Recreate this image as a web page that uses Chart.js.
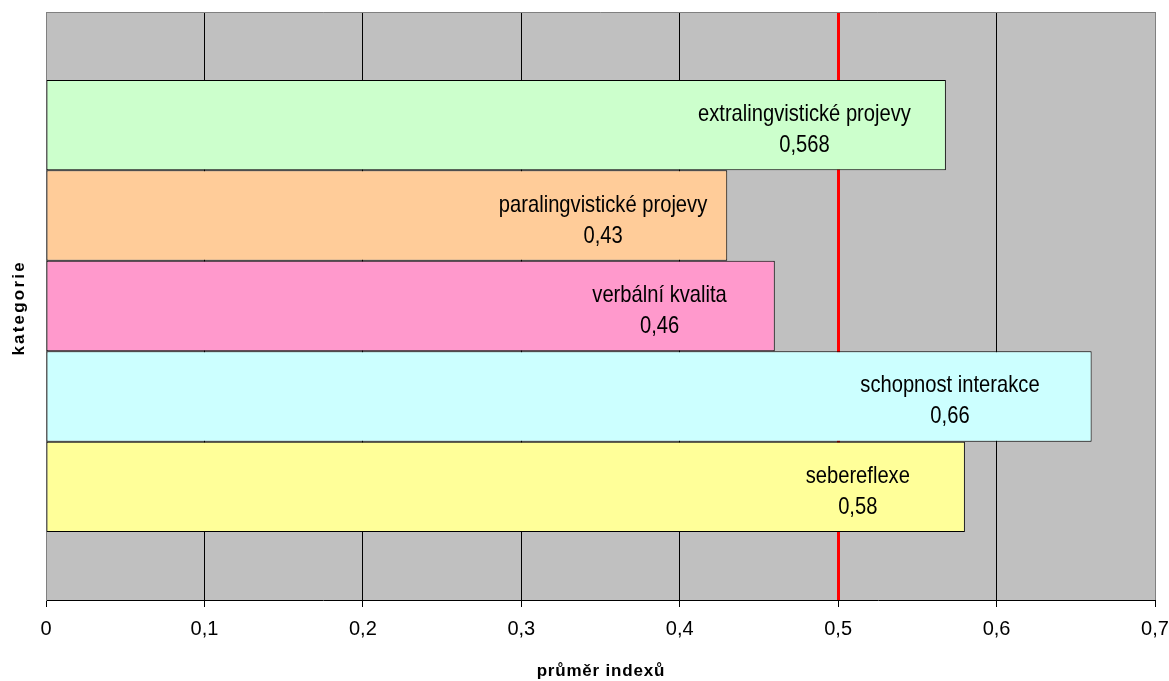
<!DOCTYPE html>
<html>
<head>
<meta charset="utf-8">
<script src="https://cdn.jsdelivr.net/npm/chart.js@4/dist/chart.umd.min.js"></script>
<style>
  html, body { margin: 0; padding: 0; background: #ffffff; }
  #wrap { width: 1169px; height: 681px; position: relative; }
</style>
</head>
<body>
<div id="wrap"><canvas id="c"></canvas></div>
<script>
// Series: one bar per category of the index
const seriesNames  = ['extralingvistické projevy', 'paralingvistické projevy', 'verbální kvalita', 'schopnost interakce', 'sebereflexe'];
const seriesValues = [0.568, 0.43, 0.46, 0.66, 0.58];
const seriesColors = ['#CCFFCC', '#FFCC99', '#FF99CC', '#CCFFFF', '#FFFF99'];

// Value axis ticks and the reference threshold
const xTickValues = [0, 0.1, 0.2, 0.3, 0.4, 0.5, 0.6, 0.7];
const referenceValue = 0.5;

// Axis titles
const xTitle = 'průměr indexů';
const yTitle = 'kategorie';

// Label styling: distance of each label block from its bar end (px)
const labelInsets = [35, 20, 48, 52, 55];
const textSqueeze = 0.84;
const FONT = '"Liberation Sans", Arial, Helvetica, sans-serif';

const fmt = v => String(Math.round(v * 1000) / 1000).replace('.', ',');

// draws text with extra spacing between glyphs, one glyph at a time
function spacedText(ctx, text, cx, cy, spacing) {
  const chars = Array.from(text);
  const widths = chars.map(ch => ctx.measureText(ch).width);
  const total = widths.reduce((s, w) => s + w, 0) + spacing * (chars.length - 1);
  let x = cx - total / 2;
  ctx.textAlign = 'left';
  chars.forEach((ch, i) => { ctx.fillText(ch, x, cy); x += widths[i] + spacing; });
}

const plotDecor = {
  id: 'plotDecor',
  beforeDraw(chart) {
    const { ctx, chartArea: a } = chart;
    ctx.save();
    ctx.fillStyle = '#C0C0C0';
    ctx.fillRect(a.left, a.top, a.right - a.left, a.bottom - a.top);
    ctx.restore();
  },
  afterDatasetsDraw(chart) {
    const { ctx, chartArea: a } = chart;
    ctx.save();
    // upper frame edge of the plot area
    ctx.strokeStyle = '#808080';
    ctx.lineWidth = 1;
    ctx.beginPath();
    ctx.moveTo(a.left, Math.round(a.top) + 0.5);
    ctx.lineTo(a.right, Math.round(a.top) + 0.5);
    ctx.stroke();

    // two-line labels inside each bar: name and value
    ctx.font = '24px ' + FONT;
    ctx.fillStyle = '#000000';
    ctx.textAlign = 'center';
    ctx.textBaseline = 'alphabetic';
    chart.data.datasets.forEach((ds, i) => {
      const bar = chart.getDatasetMeta(i).data[0];
      if (!bar) return;
      const lines = [seriesNames[i], fmt(seriesValues[i])];
      const w = Math.max(...lines.map(t => ctx.measureText(t).width)) * textSqueeze;
      const cx = bar.x - labelInsets[i] - w / 2;
      ctx.save();
      ctx.translate(cx, bar.y);
      ctx.scale(textSqueeze, 1);
      ctx.fillText(lines[0], 0, -4);
      ctx.fillText(lines[1], 0, 27);
      ctx.restore();
    });
    ctx.restore();
  },
  afterDraw(chart) {
    const { ctx, chartArea: a } = chart;
    ctx.save();
    ctx.fillStyle = '#000000';
    ctx.textBaseline = 'middle';
    ctx.font = 'bold 17px ' + FONT;
    spacedText(ctx, xTitle, (a.left + a.right) / 2, a.bottom + 71, 0.8);
    ctx.translate(19, (a.top + a.bottom) / 2 + 3);
    ctx.rotate(-Math.PI / 2);
    spacedText(ctx, yTitle, 0, 0, 2.2);
    ctx.restore();
  }
};

const datasets = seriesNames.map((name, i) => ({
  label: name,
  data: [seriesValues[i]],
  backgroundColor: seriesColors[i],
  borderColor: '#000000',
  borderWidth: 1,
  borderSkipped: false,
  categoryPercentage: 0.769,
  barPercentage: 1.0
}));

new Chart(document.getElementById('c'), {
  type: 'bar',
  data: { labels: [yTitle], datasets },
  options: {
    indexAxis: 'y',
    responsive: true,
    maintainAspectRatio: false,
    animation: false,
    devicePixelRatio: 1,
    layout: { padding: { top: 12, right: 14, left: 0, bottom: 0 } },
    plugins: {
      legend: { display: false },
      tooltip: { enabled: false },
      title: { display: false }
    },
    scales: {
      x: {
        type: 'linear',
        min: 0,
        max: 0.7,
        afterBuildTicks: s => { s.ticks = xTickValues.map(v => ({ value: v })); },
        afterFit: s => { s.height = 81; s.paddingLeft = 0; s.paddingRight = 0; },
        ticks: {
          color: '#000000',
          font: { family: FONT, size: 20 },
          padding: 10,
          maxRotation: 0,
          autoSkip: false,
          callback: v => fmt(v)
        },
        grid: {
          drawOnChartArea: true,
          drawTicks: true,
          tickLength: 7,
          tickWidth: 1,
          tickColor: '#000000',
          color: c => {
            const v = c.tick ? c.tick.value : null;
            if (v === referenceValue) return '#FF0000';
            if (v === 0 || v === 0.7) return '#808080';
            return '#000000';
          },
          lineWidth: c => (c.tick && c.tick.value === referenceValue) ? 3 : 1
        },
        border: { display: true, color: '#000000', width: 1 }
      },
      y: {
        type: 'category',
        afterFit: s => { s.width = 46; },
        ticks: { display: false },
        grid: { display: false, drawTicks: false },
        border: { display: true, color: '#808080', width: 1 }
      }
    }
  },
  plugins: [plotDecor]
});
</script>
</body>
</html>
